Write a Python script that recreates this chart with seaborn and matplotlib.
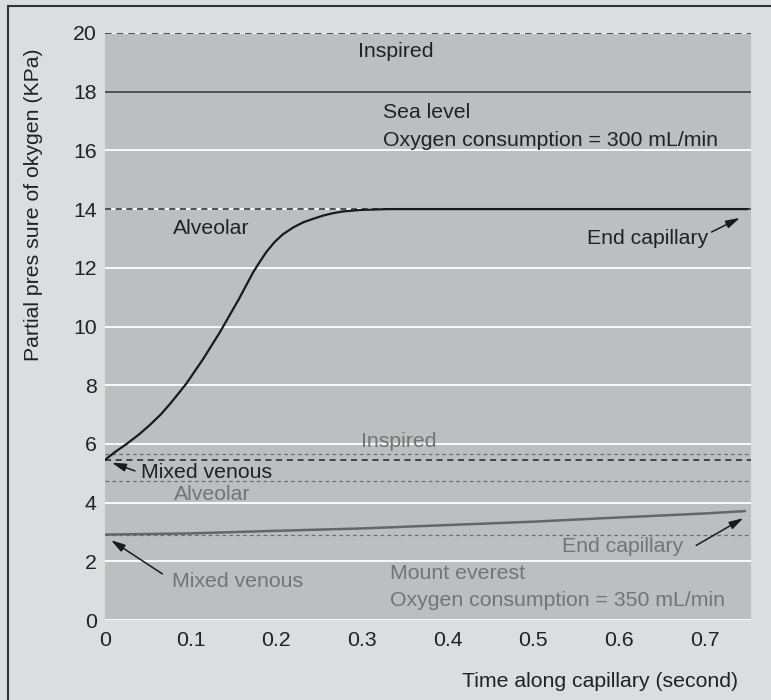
import numpy as np
import pandas as pd
import seaborn as sns
from matplotlib import pyplot as plt
from matplotlib.lines import Line2D

# sea level capillary curve (time in s, PO2 in kPa)
SEA_T = [0.0, 0.0027, 0.0125, 0.0253, 0.04, 0.0525, 0.065, 0.0758, 0.085, 0.0953, 0.1147,
         0.134, 0.1556, 0.173, 0.181, 0.1886, 0.198, 0.208, 0.22, 0.2314, 0.243, 0.2547,
         0.266, 0.278, 0.2975, 0.33, 0.4, 0.5, 0.6, 0.7, 0.75]
SEA_P = [5.45, 5.52, 5.74, 6.0, 6.33, 6.65, 7.0, 7.36, 7.69, 8.07, 8.9,
         9.8, 10.9, 11.85, 12.22, 12.55, 12.88, 13.15, 13.38, 13.55, 13.67, 13.78,
         13.86, 13.92, 13.97, 14.0, 14.0, 14.0, 14.0, 14.0, 14.0]

# mount everest capillary curve
EVE_T = [0.0, 0.1, 0.19, 0.3, 0.387, 0.5, 0.583, 0.7, 0.747]
EVE_P = [2.91, 2.95, 3.03, 3.12, 3.22, 3.35, 3.47, 3.63, 3.71]

# reference levels
SEA_LEVELS = {"inspired": 20.0, "divider": 18.0, "alveolar": 14.0, "venous": 5.45}
EVE_LEVELS = {"inspired": 5.66, "alveolar": 4.72, "venous": 2.91}

X_TICKS = [0, 0.1, 0.2, 0.3, 0.4, 0.5, 0.6, 0.7]
Y_TICKS = [0, 2, 4, 6, 8, 10, 12, 14, 16, 18, 20]

FIG_BG = "#dcdddf"
AX_BG = "#bdbec1"
GREY = "#747474"
DARK = "#1a1a1a"
TXT = "#222222"

sns.set_theme(style="darkgrid", rc={"axes.facecolor": AX_BG, "figure.facecolor": FIG_BG,
                                    "grid.color": "white", "grid.linewidth": 1.3})
plt.rcParams["font.family"] = ["Liberation Sans", "DejaVu Sans"]

fig = plt.figure(figsize=(7.71, 7.0), dpi=100)
ax = fig.add_axes([105 / 771, 80 / 700, 646 / 771, 587 / 700])

sea = pd.DataFrame({"t": SEA_T, "p": SEA_P})
eve = pd.DataFrame({"t": EVE_T, "p": EVE_P})

dash_blk = (0, (4, 3))
ax.axhline(SEA_LEVELS["inspired"], color="#333333", ls=dash_blk, lw=1.2, zorder=3)
ax.axhline(SEA_LEVELS["divider"], color="#222222", ls="-", lw=1.1, zorder=3)
ax.axhline(SEA_LEVELS["alveolar"], color="#222222", ls=dash_blk, lw=1.1, zorder=3)
ax.axhline(SEA_LEVELS["venous"], color="#222222", ls=dash_blk, lw=1.1, zorder=3)
for lvl in EVE_LEVELS.values():
    ax.axhline(lvl, color="#6e6e6e", ls=(0, (3, 2.5)), lw=0.9, zorder=3)

sns.lineplot(data=sea, x="t", y="p", ax=ax, color=DARK, lw=1.6, zorder=4)
sns.lineplot(data=eve, x="t", y="p", ax=ax, color="#666666", lw=1.8, zorder=4)

ax.set_xlim(0, 0.754)
ax.set_ylim(0, 20)
ax.set_xticks(X_TICKS)
ax.set_xticklabels(["0" if v == 0 else f"{v:g}" for v in X_TICKS])
ax.set_yticks(Y_TICKS)
ax.grid(axis="x", visible=False)
fs = 15.3
ax.tick_params(axis="x", direction="in", length=7, width=1.2, color="white",
               labelsize=fs, labelcolor=TXT, pad=8)
ax.tick_params(axis="y", length=0, labelsize=fs, labelcolor=TXT, pad=6)
for s in ax.spines.values():
    s.set_visible(False)

ax.text(0.295, 19.36, "Inspired", fontsize=fs, color=TXT, va="center")
ax.text(0.324, 17.3, "Sea level", fontsize=fs, color=TXT, va="center")
ax.text(0.324, 16.35, "Oxygen consumption = 300 mL/min", fontsize=fs, color=TXT, va="center")
ax.text(0.0797, 13.35, "Alveolar", fontsize=fs, color=TXT, va="center")
ax.text(0.563, 13.0, "End capillary", fontsize=fs, color=TXT, va="center")
ax.text(0.042, 5.04, "Mixed venous", fontsize=fs, color=TXT, va="center")

ax.text(0.299, 6.07, "Inspired", fontsize=fs, color=GREY, va="center")
ax.text(0.0805, 4.29, "Alveolar", fontsize=fs, color=GREY, va="center")
ax.text(0.533, 2.5, "End capillary", fontsize=fs, color=GREY, va="center")
ax.text(0.078, 1.30, "Mixed venous", fontsize=fs, color=GREY, va="center")
ax.text(0.333, 1.59, "Mount everest", fontsize=fs, color=GREY, va="center")
ax.text(0.333, 0.68, "Oxygen consumption = 350 mL/min", fontsize=fs, color=GREY, va="center")

arrow = dict(arrowstyle="-|>,head_length=0.7,head_width=0.2", color="#1a1a1a", lw=1.1,
             shrinkA=0, shrinkB=0)
ax.annotate("", xy=(0.741, 13.7), xytext=(0.708, 13.22), arrowprops=arrow)
ax.annotate("", xy=(0.008, 5.36), xytext=(0.035, 5.08), arrowprops=arrow)
ax.annotate("", xy=(0.745, 3.47), xytext=(0.69, 2.54), arrowprops=arrow)
ax.annotate("", xy=(0.007, 2.72), xytext=(0.067, 1.57), arrowprops=arrow)

ax.set_xlabel("Time along capillary (second)", fontsize=fs, color=TXT, ha="right")
ax.xaxis.set_label_coords(0.98, -0.089)
ax.set_ylabel("Partial pres sure of okygen (KPa)", fontsize=fs, color=TXT)
ax.yaxis.set_label_coords(-0.096, 0.707)

# outer frame (top and left edges)
fig.add_artist(Line2D([8 / 771, 1.0], [1 - 6 / 700, 1 - 6 / 700], color="#333333", lw=1.5))
fig.add_artist(Line2D([8 / 771, 8 / 771], [0.0, 1 - 6 / 700], color="#333333", lw=1.5))

fig.savefig("out.png", dpi=100, facecolor=FIG_BG)
